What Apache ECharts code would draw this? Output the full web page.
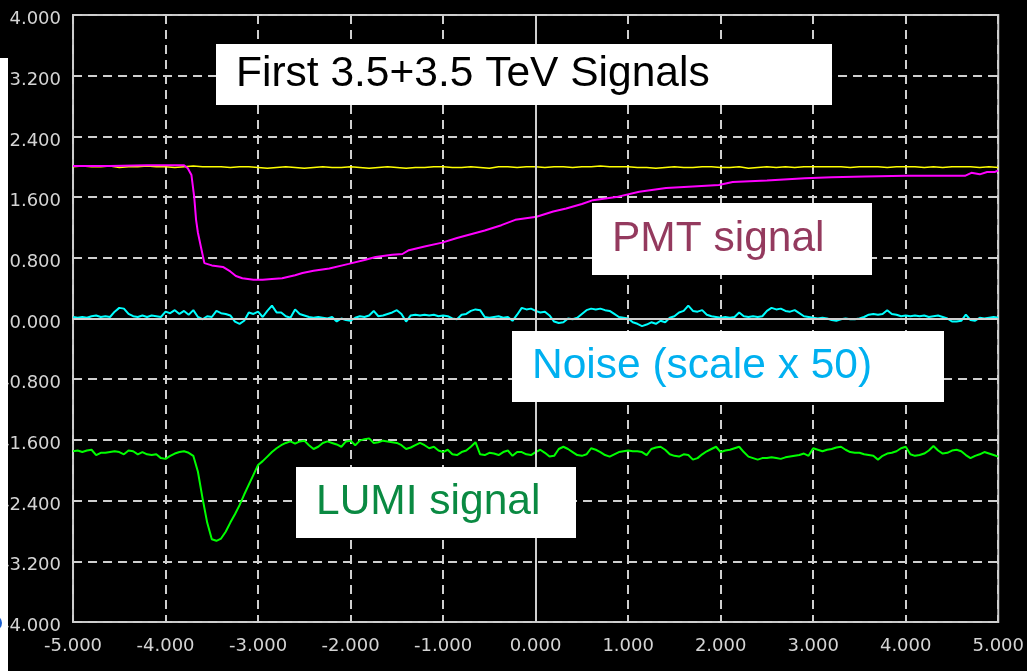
<!DOCTYPE html>
<html>
<head>
<meta charset="utf-8">
<title>First 3.5+3.5 TeV Signals</title>
<script src="https://cdn.jsdelivr.net/npm/echarts@6/dist/echarts.min.js"></script>
<style>
  html, body { margin: 0; padding: 0; background: #000; }
  #chart { width: 1027px; height: 671px; }
</style>
</head>
<body>
<div id="chart"></div>
<script>
// Scope trace, time axis in arbitrary units from -5 to 5
const xTicks = [-5, -4, -3, -2, -1, 0, 1, 2, 3, 4, 5];
const yTicks = [-4, -3.2, -2.4, -1.6, -0.8, 0, 0.8, 1.6, 2.4, 3.2, 4];

// Reference trace (yellow), sampled every 0.1
const refStart = -5, refStep = 0.1;
const refTrace = [
  2.00, 2.01, 2.00, 2.00, 2.01, 1.99, 2.00, 2.00, 2.01, 2.00,
  2.00, 1.99, 2.00, 2.01, 2.00, 2.00, 2.00, 1.99, 2.00, 2.00,
  1.99, 1.98, 1.99, 2.00, 1.99, 1.98, 1.99, 2.00, 1.99, 1.99,
  2.00, 1.99, 1.98, 1.99, 2.00, 1.99, 1.98, 1.99, 1.99, 2.00,
  2.00, 1.99, 1.99, 2.00, 1.99, 1.98, 2.00, 2.00, 1.99, 2.00,
  2.00, 1.99, 2.00, 2.00, 1.99, 2.00, 2.00, 2.01, 2.00, 2.00,
  2.00, 1.99, 1.99, 1.98, 1.99, 2.00, 1.99, 1.99, 2.00, 2.00,
  1.99, 1.99, 2.00, 1.98, 1.99, 2.00, 1.99, 2.00, 1.99, 2.00,
  2.00, 2.00, 2.00, 2.00, 1.99, 2.00, 2.00, 2.00, 1.99, 2.00,
  2.00, 2.00, 1.99, 2.00, 1.99, 2.00, 2.00, 2.00, 1.99, 2.00,
  1.99
];

// PMT signal (magenta): [time, value]
const pmtSignal = [
  [-5.00, 2.01], [-4.60, 2.01], [-4.20, 2.02], [-3.80, 2.02], [-3.76, 1.98],
  [-3.72, 1.89], [-3.69, 1.60], [-3.67, 1.30], [-3.65, 1.13], [-3.61, 0.90],
  [-3.58, 0.73], [-3.50, 0.70], [-3.38, 0.68], [-3.30, 0.62], [-3.24, 0.56],
  [-3.17, 0.53], [-3.05, 0.51], [-2.95, 0.51], [-2.85, 0.52], [-2.74, 0.53],
  [-2.60, 0.57], [-2.52, 0.60], [-2.40, 0.63], [-2.23, 0.66], [-2.02, 0.72],
  [-1.85, 0.77], [-1.73, 0.81], [-1.55, 0.84], [-1.44, 0.85], [-1.37, 0.90],
  [-1.20, 0.95], [-1.01, 1.00], [-0.85, 1.06], [-0.73, 1.10], [-0.55, 1.16],
  [-0.37, 1.23], [-0.22, 1.30], [0.01, 1.34], [0.19, 1.41], [0.33, 1.45],
  [0.50, 1.51], [0.62, 1.56], [0.87, 1.60], [1.12, 1.67], [1.41, 1.72],
  [1.70, 1.74], [1.98, 1.76], [2.13, 1.80], [2.50, 1.82], [2.91, 1.85],
  [3.20, 1.86], [3.56, 1.87], [4.00, 1.88], [4.64, 1.88], [4.71, 1.92],
  [4.80, 1.90], [4.88, 1.93], [4.96, 1.93], [5.00, 1.95]
];

// Noise (cyan) and LUMI signal (green), sampled every 0.05
const fineStart = -5, fineStep = 0.05;
const noiseTrace = [
  0.02, 0.01, 0.02, 0.01, 0.03, 0.04, 0.02, 0.03, 0.02, 0.09,
  0.14, 0.13, 0.06, 0.03, 0.02, 0.04, 0.02, 0.04, 0.03, 0.02,
  0.09, 0.07, 0.11, 0.06, 0.10, 0.05, 0.11, 0.02, -0.01, 0.03,
  0.02, 0.10, 0.07, 0.06, 0.04, -0.04, -0.07, -0.03, 0.08, 0.06,
  0.09, 0.02, 0.10, 0.17, 0.08, 0.08, 0.03, 0.01, 0.12, 0.06,
  0.04, 0.02, 0.01, 0.02, 0.01, 0.00, 0.02, -0.04, 0.00, -0.02,
  -0.03, 0.01, 0.03, 0.02, 0.04, 0.10, 0.03, 0.04, 0.06, 0.08,
  0.11, 0.06, -0.04, 0.04, 0.05, 0.04, 0.05, 0.04, 0.05, 0.03,
  0.04, 0.03, 0.00, -0.01, 0.05, 0.06, 0.10, 0.12, 0.11, 0.02,
  0.01, 0.02, 0.03, 0.01, 0.02, -0.03, 0.05, 0.14, 0.12, 0.13,
  0.10, 0.08, 0.09, 0.04, -0.04, -0.06, -0.05, 0.00, -0.01, 0.01,
  0.06, 0.11, 0.13, 0.12, 0.13, 0.11, 0.10, 0.06, 0.02, 0.01,
  0.00, -0.05, -0.07, -0.10, -0.08, -0.05, -0.07, -0.03, -0.05, 0.01,
  0.03, 0.08, 0.10, 0.17, 0.10, 0.09, 0.11, 0.05, 0.03, 0.02,
  0.01, 0.02, 0.01, 0.02, 0.08, 0.03, 0.02, 0.03, 0.02, 0.03,
  0.10, 0.14, 0.12, 0.13, 0.10, 0.09, 0.11, 0.07, 0.03, 0.02,
  0.01, 0.00, 0.01, 0.00, -0.02, -0.03, -0.01, 0.00, -0.01, -0.01,
  0.00, 0.02, 0.05, 0.06, 0.05, 0.06, 0.11, 0.06, 0.05, 0.03,
  0.04, 0.03, 0.04, 0.03, 0.04, 0.02, 0.03, 0.04, 0.02, 0.00,
  -0.04, -0.04, -0.03, 0.05, -0.02, -0.03, 0.01, 0.00, 0.01, 0.02,
  0.01
];
const lumiTrace = [
  -1.75, -1.74, -1.76, -1.74, -1.73, -1.80, -1.77, -1.77, -1.76, -1.75,
  -1.76, -1.79, -1.74, -1.75, -1.79, -1.76, -1.79, -1.80, -1.79, -1.84,
  -1.85, -1.81, -1.78, -1.76, -1.75, -1.77, -1.81, -2.02, -2.37, -2.69,
  -2.91, -2.93, -2.90, -2.81, -2.69, -2.58, -2.46, -2.32, -2.19, -2.06,
  -1.93, -1.88, -1.82, -1.76, -1.71, -1.67, -1.64, -1.62, -1.65, -1.62,
  -1.61, -1.67, -1.72, -1.69, -1.64, -1.62, -1.64, -1.66, -1.69, -1.62,
  -1.61, -1.67, -1.61, -1.59, -1.58, -1.64, -1.63, -1.61, -1.62, -1.63,
  -1.64, -1.67, -1.72, -1.70, -1.67, -1.64, -1.67, -1.71, -1.69, -1.74,
  -1.76, -1.73, -1.79, -1.80, -1.76, -1.74, -1.69, -1.63, -1.79, -1.80,
  -1.77, -1.78, -1.80, -1.76, -1.74, -1.81, -1.76, -1.76, -1.79, -1.80,
  -1.76, -1.73, -1.77, -1.82, -1.81, -1.72, -1.69, -1.72, -1.76, -1.80,
  -1.81, -1.79, -1.71, -1.73, -1.76, -1.80, -1.82, -1.79, -1.76, -1.75,
  -1.74, -1.75, -1.75, -1.76, -1.80, -1.72, -1.70, -1.69, -1.73, -1.79,
  -1.81, -1.82, -1.79, -1.80, -1.86, -1.84, -1.79, -1.75, -1.72, -1.69,
  -1.76, -1.74, -1.73, -1.71, -1.69, -1.76, -1.82, -1.84, -1.86, -1.84,
  -1.84, -1.83, -1.84, -1.85, -1.83, -1.82, -1.81, -1.80, -1.78, -1.81,
  -1.71, -1.73, -1.75, -1.73, -1.72, -1.70, -1.69, -1.73, -1.76, -1.77,
  -1.77, -1.79, -1.80, -1.81, -1.86, -1.81, -1.78, -1.77, -1.75, -1.71,
  -1.69, -1.79, -1.81, -1.80, -1.78, -1.74, -1.68, -1.74, -1.78, -1.77,
  -1.74, -1.73, -1.75, -1.80, -1.84, -1.81, -1.79, -1.76, -1.78, -1.80,
  -1.82
];

// pair sampled values with their time stamps
function withTime(values, start, step) {
  return values.map((v, i) => [+(start + i * step).toFixed(3), v]);
}

function fmt(v) {
  if (Math.abs(v) < 1e-9) return '0.000';
  return v.toFixed(3);
}

const labelFont = 'DejaVu Sans';
const gridColor = '#cfcfcf';
const captionFont = '42.5px "Liberation Sans", Arial, sans-serif';

const chart = echarts.init(document.getElementById('chart'), null, { renderer: 'canvas' });

function caption(x, y, w, h, text, color) {
  return [
    { type: 'rect', z: 100, shape: { x: x, y: y, width: w, height: h }, style: { fill: '#ffffff' } },
    { type: 'text', z: 101, x: x + 20, y: y + h / 2, style: { text: text, fill: color, font: captionFont, verticalAlign: 'middle' } }
  ];
}

const option = {
  backgroundColor: '#000000',
  animation: false,
  grid: {
    left: 73, top: 15, right: 25, bottom: 49,
    show: true, borderColor: '#c8c8c8', borderWidth: 2, backgroundColor: 'transparent'
  },
  xAxis: {
    type: 'value',
    min: xTicks[0], max: xTicks[xTicks.length - 1], interval: 1,
    axisLine: { show: false },
    axisTick: { show: false },
    axisLabel: {
      color: '#d4d4d4', fontFamily: labelFont, fontSize: 18, margin: 15,
      showMinLabel: true, showMaxLabel: true,
      formatter: fmt
    },
    splitLine: { show: true, lineStyle: { color: gridColor, width: 2, type: [9, 6] } }
  },
  yAxis: {
    type: 'value',
    min: yTicks[0], max: yTicks[yTicks.length - 1], interval: 0.8,
    axisLine: { show: false },
    axisTick: { show: false },
    axisLabel: {
      color: '#d4d4d4', fontFamily: labelFont, fontSize: 18, margin: 12,
      showMinLabel: true, showMaxLabel: true,
      formatter: v => '{t|' + fmt(v) + '}',
      rich: {
        t: { color: '#d4d4d4', fontFamily: labelFont, fontSize: 18, padding: [9, 0, 0, 0] }
      }
    },
    splitLine: { show: true, lineStyle: { color: gridColor, width: 2, type: [9, 6] } }
  },
  series: [
    {
      name: 'Reference', type: 'line',
      data: withTime(refTrace, refStart, refStep),
      showSymbol: false, symbol: 'none',
      lineStyle: { color: '#ffff00', width: 1.6 },
      z: 2,
      markLine: {
        silent: true, symbol: 'none', animation: false,
        label: { show: false },
        lineStyle: { color: '#cfcfcf', width: 2, type: 'solid' },
        data: [{ xAxis: 0 }, { yAxis: 0 }]
      }
    },
    {
      name: 'PMT signal', type: 'line',
      data: pmtSignal,
      showSymbol: false, symbol: 'none',
      lineStyle: { color: '#ff00ff', width: 2 },
      z: 3
    },
    {
      name: 'Noise (scale x 50)', type: 'line',
      data: withTime(noiseTrace, fineStart, fineStep),
      showSymbol: false, symbol: 'none',
      lineStyle: { color: '#00ffff', width: 2 },
      z: 3
    },
    {
      name: 'LUMI signal', type: 'line',
      data: withTime(lumiTrace, fineStart, fineStep),
      showSymbol: false, symbol: 'none',
      lineStyle: { color: '#00ff00', width: 2 },
      z: 3
    }
  ],
  graphic: [
    // left edge strip and marker
    { type: 'rect', z: 100, shape: { x: 0, y: 58, width: 8, height: 613 }, style: { fill: '#ffffff' } },
    { type: 'circle', z: 101, shape: { cx: -6, cy: 623, r: 8 }, style: { fill: '#1a5fd0' } }
  ]
    .concat(caption(216, 44, 616, 61, 'First 3.5+3.5 TeV Signals', '#000000'))
    .concat(caption(592, 203, 280, 72, 'PMT signal', '#943a5e'))
    .concat(caption(512, 331, 432, 71, 'Noise (scale x 50)', '#00b0f0'))
    .concat(caption(296, 467, 280, 71, 'LUMI signal', '#0a8a42'))
};

chart.setOption(option);
</script>
</body>
</html>
